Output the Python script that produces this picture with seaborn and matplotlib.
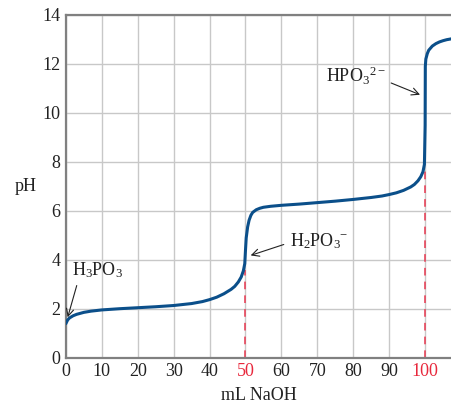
import numpy as np
import pandas as pd
import seaborn as sns
import matplotlib.pyplot as plt

# titration curve
ml_naoh = [0, 0.5, 1, 2, 3, 5, 7, 10, 15, 20, 25, 30, 35, 38, 40, 42, 44, 46, 47, 48, 48.8, 49.4, 49.8,
           50.0, 50.2, 50.6, 51, 51.5, 52, 53, 54, 55, 57, 60, 65, 70, 75, 80, 85, 88, 90, 92, 94, 96,
           97, 98, 98.8, 99.4, 99.8, 100.0, 100.05, 100.2, 100.6, 101, 102, 103, 104, 105, 106, 107.5]
ph = [1.40, 1.55, 1.63, 1.72, 1.78, 1.86, 1.91, 1.96, 2.01, 2.05, 2.09, 2.14, 2.22, 2.30, 2.38, 2.48, 2.62, 2.80, 2.92, 3.10, 3.30, 3.55, 3.85,
      4.40, 4.90, 5.35, 5.62, 5.82, 5.94, 6.05, 6.11, 6.15, 6.19, 6.23, 6.28, 6.34, 6.40, 6.47, 6.55, 6.61, 6.67, 6.74, 6.84, 6.98,
      7.08, 7.23, 7.40, 7.60, 7.90, 9.5, 11.9, 12.2, 12.42, 12.56, 12.73, 12.83, 12.90, 12.95, 12.99, 13.03]

xticks = list(range(0, 101, 10))
xtick_labels = [str(t) for t in xticks]
red_ticks = [50, 100]
equiv_x = [50, 100]
equiv_ph = [3.6, 7.7]

sns.set_style("white")
plt.rcParams['font.family'] = ['Liberation Serif', 'DejaVu Serif']
plt.rcParams['mathtext.fontset'] = 'custom'
plt.rcParams['mathtext.rm'] = 'Liberation Serif'
plt.rcParams['mathtext.it'] = 'Liberation Serif:italic'

df = pd.DataFrame({'mL': ml_naoh, 'pH': ph})

fig = plt.figure(figsize=(4.51, 4.04), dpi=100)
ax = fig.add_axes([0.146, 0.114, 0.854, 0.849])

ax.grid(True, color='#c8c8c8', linewidth=1.0)
ax.set_axisbelow(True)

# dashed lines at the equivalence points
for xv, yv in zip(equiv_x, equiv_ph):
    ax.plot([xv, xv], [0, yv], color='#e8384f', linestyle=(0, (5, 4)), linewidth=1.1, zorder=2)

sns.lineplot(data=df, x='mL', y='pH', ax=ax, color='#0b4f8a', linewidth=2.2, zorder=3)

ax.set_xlim(0, 107.2)
ax.set_ylim(0, 14)
ax.set_xticks(xticks)
ax.set_xticklabels(xtick_labels)
ax.set_yticks(range(0, 15, 2))
ax.tick_params(labelsize=13, length=0, pad=4, colors='#222222')
for lab, t in zip(ax.get_xticklabels(), xticks):
    if t in red_ticks:
        lab.set_color('#e8283c')

ax.set_xlabel('mL NaOH', fontsize=13, color='#222222', labelpad=5)
ax.set_ylabel('pH', fontsize=13, color='#222222', rotation=0, va='center', labelpad=12)

for side in ['left', 'bottom', 'top']:
    ax.spines[side].set_color('#808080')
    ax.spines[side].set_linewidth(1.6)
ax.spines['right'].set_visible(False)

arrow = dict(arrowstyle='->', color='#222222', linewidth=0.8)
ax.annotate(r'H$_3$PO$_3$', xy=(0.3, 1.55), xytext=(1.8, 3.6), fontsize=13, color='#222222',
            va='center', arrowprops=dict(arrow, relpos=(0.12, 0)))
ax.annotate(r'H$_2$PO$_3$$^{-}$', xy=(50.7, 4.15), xytext=(62.3, 4.75), fontsize=13, color='#222222',
            va='center', arrowprops=dict(arrow, relpos=(0, 0.45)))
ax.annotate(r'HPO$_3$$^{2-}$', xy=(99.3, 10.7), xytext=(72.3, 11.5), fontsize=13, color='#222222',
            va='center', arrowprops=dict(arrow, relpos=(1.0, 0.3)))

fig.savefig('out.png', dpi=100)
